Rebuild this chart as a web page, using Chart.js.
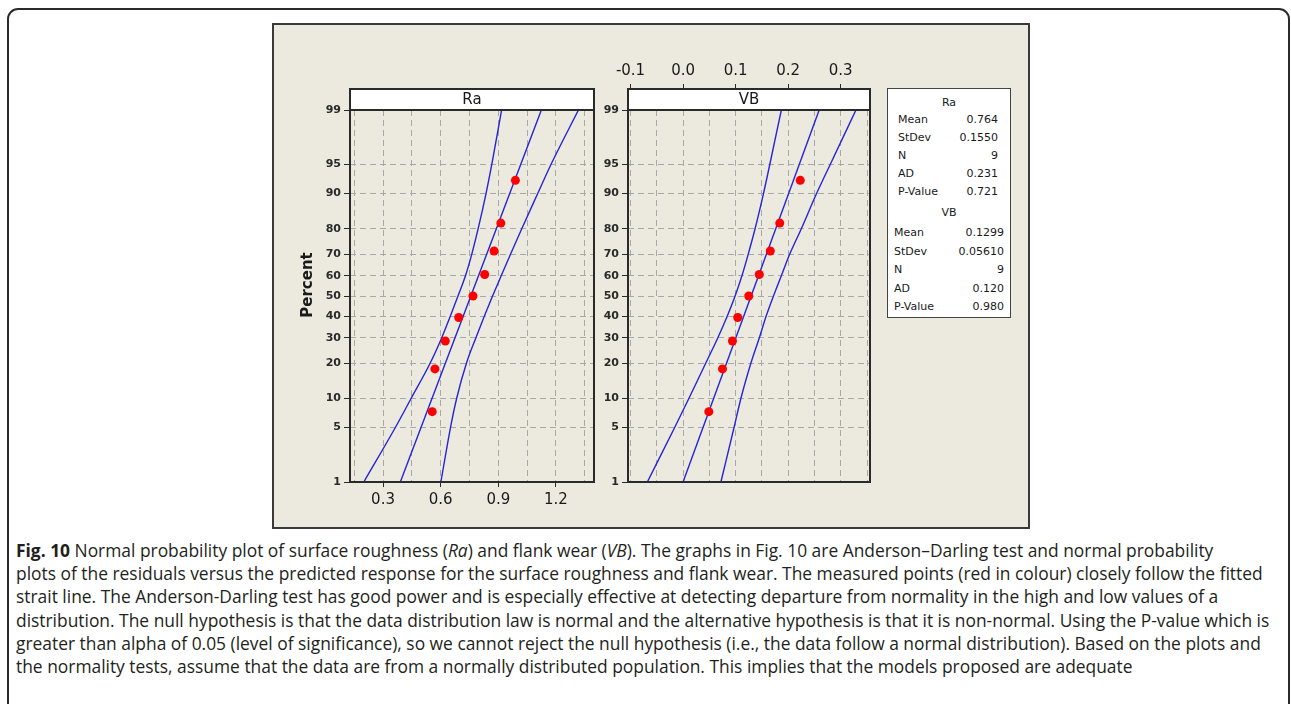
<!DOCTYPE html>
<html>
<head>
<meta charset="utf-8">
<script src="https://cdn.jsdelivr.net/npm/chart.js@4.4.1/dist/chart.umd.min.js"></script>
<style>
    body { margin: 0; background: #fff; width: 1291px; height: 704px; overflow: hidden; position: relative; }
    #card { position: absolute; left: 7px; top: 8px; width: 1279px; height: 740px; border: 2px solid #2b2b2b; border-radius: 11px; }
    #figure { position: absolute; left: 272px; top: 23px; width: 754px; height: 502px; background: #ece9df; border: 2px solid #3a3a3a; }
    canvas { position: absolute; }
    #legend { position: absolute; left: 887px; top: 88px; width: 122px; height: 228px; background: #fff; border: 1px solid #444;
        font-family: 'DejaVu Sans', sans-serif; font-size: 11px; color: #1a1a1a; }
    #legend div { position: absolute; white-space: nowrap; }
    #caption { position: absolute; left: 16px; top: 539px; font-family: 'Open Sans', sans-serif; font-size: 17.4px;
        line-height: 23.2px; color: #231f20; white-space: nowrap; }
</style>
</head>
<body>
<div id="card"></div>
<div id="figure"></div>
<canvas id="raChart" width="310" height="450" style="left:290px; top:80px;"></canvas>
<canvas id="vbChart" width="300" height="490" style="left:580px; top:40px;"></canvas>
<div id="legend"></div>
<div id="caption">
    <div><b>Fig. 10</b> Normal probability plot of surface roughness (<i>Ra</i>) and flank wear (<i>VB</i>). The graphs in Fig. 10 are Anderson–Darling test and normal probability</div>
    <div>plots of the residuals versus the predicted response for the surface roughness and flank wear. The measured points (red in colour) closely follow the fitted</div>
    <div>strait line. The Anderson-Darling test has good power and is especially effective at detecting departure from normality in the high and low values of a</div>
    <div>distribution. The null hypothesis is that the data distribution law is normal and the alternative hypothesis is that it is non-normal. Using the P-value which is</div>
    <div>greater than alpha of 0.05 (level of significance), so we cannot reject the null hypothesis (i.e., the data follow a normal distribution). Based on the plots and</div>
    <div>the normality tests, assume that the data are from a normally distributed population. This implies that the models proposed are adequate</div>
</div>
<script>
// percent axis (normal probability paper)
const pctTicks = [1, 5, 10, 20, 30, 40, 50, 60, 70, 80, 90, 95, 99];

// measured points (plotting position in %)
const pointPct = [7.4, 18.1, 28.7, 39.4, 50, 60.6, 71.3, 81.9, 92.6];
const raValues = [0.556, 0.570, 0.624, 0.694, 0.768, 0.829, 0.878, 0.913, 0.989];
const vbValues = [0.049, 0.075, 0.094, 0.104, 0.125, 0.145, 0.166, 0.184, 0.223];

// fitted line, read at 1% and 99%
const fitPct = [1, 99];
const raFit = [0.390, 1.124];
const vbFit = [0.000, 0.259];

// confidence band curves, read at each percent grid line
const bandPct = [1, 5, 10, 20, 30, 40, 50, 60, 70, 80, 90, 95, 99];
const raLeft = [0.200, 0.364, 0.446, 0.545, 0.605, 0.650, 0.690, 0.729, 0.762, 0.795, 0.836, 0.866, 0.917];
const raRight = [0.601, 0.651, 0.683, 0.734, 0.783, 0.827, 0.870, 0.915, 0.964, 1.022, 1.105, 1.174, 1.317];
const vbLeft = [-0.068, -0.016, 0.011, 0.043, 0.066, 0.084, 0.099, 0.112, 0.124, 0.137, 0.153, 0.165, 0.187];
const vbRight = [0.072, 0.097, 0.110, 0.129, 0.145, 0.158, 0.172, 0.187, 0.203, 0.225, 0.254, 0.280, 0.329];

// x axes
const raGrid = [0.15, 0.3, 0.45, 0.6, 0.75, 0.9, 1.05, 1.2, 1.35];
const raLabels = ["", "0.3", "", "0.6", "", "0.9", "", "1.2", ""];
const vbGrid = [-0.1, -0.05, 0, 0.05, 0.1, 0.15, 0.2, 0.25, 0.3, 0.35];
const vbLabels = ["-0.1", "", "0.0", "", "0.1", "", "0.2", "", "0.3", ""];

// summary table
const raStats = [["Mean", "0.764"], ["StDev", "0.1550"], ["N", "9"], ["AD", "0.231"], ["P-Value", "0.721"]];
const vbStats = [["Mean", "0.1299"], ["StDev", "0.05610"], ["N", "9"], ["AD", "0.120"], ["P-Value", "0.980"]];

// inverse of the standard normal cdf (Acklam)
function probit(p) {
    const a = [-39.69683028665376, 220.9460984245205, -275.9285104469687, 138.3577518672690, -30.66479806614716, 2.506628277459239];
    const b = [-54.47609879822406, 161.5858368580409, -155.6989798598866, 66.80131188771972, -13.28068155288572];
    const c = [-0.007784894002430293, -0.3223964580411365, -2.400758277161838, -2.549732539343734, 4.374664141464968, 2.938163982698783];
    const d = [0.007784695709041462, 0.3224671290700398, 2.445134137142996, 3.754408661907416];
    const lo = 0.02425;
    let q, r;
    if (p < lo) {
        q = Math.sqrt(-2 * Math.log(p));
        return (((((c[0] * q + c[1]) * q + c[2]) * q + c[3]) * q + c[4]) * q + c[5]) / ((((d[0] * q + d[1]) * q + d[2]) * q + d[3]) * q + 1);
    }
    if (p > 1 - lo) {
        return -probit(1 - p);
    }
    q = p - 0.5;
    r = q * q;
    return (((((a[0] * r + a[1]) * r + a[2]) * r + a[3]) * r + a[4]) * r + a[5]) * q / (((((b[0] * r + b[1]) * r + b[2]) * r + b[3]) * r + b[4]) * r + 1);
}

const toPoints = (xs, pcts) => xs.map((x, i) => ({ x: x, y: probit(pcts[i] / 100) }));
const zMin = probit(0.01);
const zMax = probit(0.99);

Chart.defaults.font.family = "'DejaVu Sans', sans-serif";
Chart.defaults.color = "#1a1a1a";

// white header strip, frame and y title
const panelPlugin = {
    id: "panel",
    afterDraw(chart, args, opts) {
        const ctx = chart.ctx;
        const { left, right, top, bottom } = chart.chartArea;
        ctx.save();
        ctx.fillStyle = "#fff";
        ctx.fillRect(left, top - 21, right - left, 21);
        ctx.strokeStyle = "#2a2a2a";
        ctx.lineWidth = 2;
        ctx.strokeRect(left, top - 21, right - left, 21);
        ctx.strokeRect(left, top, right - left, bottom - top);
        ctx.fillStyle = "#1a1a1a";
        ctx.font = "15px 'DejaVu Sans', sans-serif";
        ctx.textAlign = "center";
        ctx.textBaseline = "middle";
        ctx.fillText(opts.label, (left + right) / 2, top - 10);
        if (opts.ytitle) {
            ctx.translate(opts.ytitleX, opts.ytitleY);
            ctx.rotate(-Math.PI / 2);
            ctx.font = "bold 15px 'DejaVu Sans', sans-serif";
            ctx.fillText(opts.ytitle, 0, 0);
        }
        ctx.restore();
    }
};

function lineSet(data) {
    return {
        type: "line", data: data, borderColor: "#2424d8", borderWidth: 1.4,
        pointRadius: 0, fill: false, cubicInterpolationMode: "monotone", order: 2
    };
}

function yScale(width) {
    return {
        type: "linear", min: zMin, max: zMax,
        afterBuildTicks: (scale) => { scale.ticks = pctTicks.map(p => ({ value: probit(p / 100) })); },
        afterFit: (scale) => { scale.width = width; },
        ticks: { callback: (v, i) => String(pctTicks[i]), font: { size: 11, weight: "bold" }, padding: 3, color: "#2a2a2a" },
        grid: { color: "#a8a8a8", tickColor: "#2a2a2a", tickLength: 6, tickBorderDash: [] },
        border: { display: false, dash: [6, 4] }
    };
}

function xScale(pos, min, max, grid, labels, height, tickLen, pad) {
    return {
        type: "linear", position: pos, min: min, max: max,
        afterBuildTicks: (scale) => { scale.ticks = grid.map(v => ({ value: v })); },
        afterFit: (scale) => { scale.height = height; },
        ticks: { callback: (v, i) => labels[i], font: { size: 15 }, padding: pad, color: "#1a1a1a", maxRotation: 0, autoSkip: false },
        grid: {
            color: "#a8a8a8", tickLength: tickLen, tickBorderDash: [],
            tickColor: (c) => labels[c.index] ? "#2a2a2a" : "rgba(0,0,0,0)"
        },
        border: { display: false, dash: [6, 4] }
    };
}

function makeChart(id, vals, fit, left, right, scales, padding, panelOpts) {
    return new Chart(document.getElementById(id), {
        type: "scatter",
        data: {
            datasets: [
                { data: toPoints(vals, pointPct), backgroundColor: "#ff0000", borderWidth: 0, pointRadius: 4.5, order: 1 },
                lineSet(toPoints(fit, fitPct)),
                lineSet(toPoints(left, bandPct)),
                lineSet(toPoints(right, bandPct))
            ]
        },
        options: {
            responsive: false, animation: false,
            layout: { padding: padding },
            plugins: { legend: { display: false }, tooltip: { enabled: false }, panel: panelOpts },
            scales: scales
        },
        plugins: [panelPlugin]
    });
}

makeChart("raChart", raValues, raFit, raLeft, raRight, {
    x: xScale("bottom", 0.128, 1.398, raGrid, raLabels, 30, 5, 4),
    y: yScale(60)
}, { top: 30, left: 0, right: 6, bottom: 18 }, { label: "Ra", ytitle: "Percent", ytitleX: 18, ytitleY: 205 });

makeChart("vbChart", vbValues, vbFit, vbLeft, vbRight, {
    x: xScale("top", -0.1048, 0.3557, vbGrid, vbLabels, 50, 26, 4),
    y: yScale(48)
}, { top: 20, left: 0, right: 10, bottom: 48 }, { label: "VB" });

// summary box
const legend = document.getElementById("legend");
function addRow(text, x, y, align) {
    const el = document.createElement("div");
    el.textContent = text;
    el.style.top = (y - 88 - 8) + "px";
    if (align === "right") el.style.right = (1010 - x) + "px";
    else if (align === "center") { el.style.left = "0"; el.style.width = "122px"; el.style.textAlign = "center"; }
    else el.style.left = (x - 888) + "px";
    legend.appendChild(el);
}
addRow("Ra", 0, 103, "center");
raStats.forEach((r, i) => { addRow(r[0], 898, 120 + i * 18, "left"); addRow(r[1], 998, 120 + i * 18, "right"); });
addRow("VB", 0, 213, "center");
vbStats.forEach((r, i) => { addRow(r[0], 894, 233 + i * 18.5, "left"); addRow(r[1], 1004, 233 + i * 18.5, "right"); });
</script>
</body>
</html>
